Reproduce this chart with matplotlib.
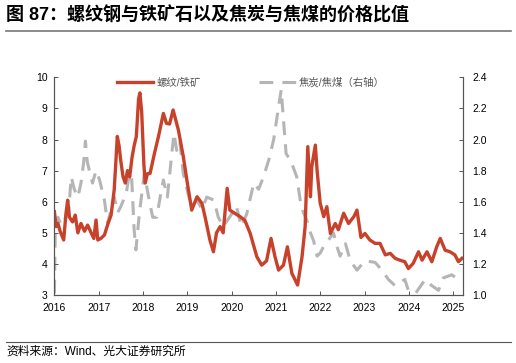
# 螺纹钢/铁矿石 与 焦炭/焦煤 价格比值
import numpy as np
import matplotlib
matplotlib.use('Agg')
import matplotlib.pyplot as plt
from matplotlib.lines import Line2D

plt.rcParams['font.family'] = ['Liberation Sans', 'Noto Sans CJK SC', 'DejaVu Sans']

# data (x in fractional years)
rebar_ore_t = [2016.00, 2016.04, 2016.08, 2016.13, 2016.21, 2016.26, 2016.30, 2016.34, 2016.41,
               2016.47, 2016.53, 2016.60, 2016.68, 2016.75, 2016.83, 2016.89, 2016.94, 2016.98,
               2017.05, 2017.13, 2017.20, 2017.28, 2017.35, 2017.39, 2017.42, 2017.46, 2017.50,
               2017.55, 2017.60, 2017.65, 2017.70, 2017.75, 2017.80, 2017.85, 2017.90, 2017.93,
               2017.97, 2018.02, 2018.05, 2018.10, 2018.16, 2018.25, 2018.35, 2018.46, 2018.53,
               2018.60, 2018.68, 2018.80, 2018.91, 2018.99, 2019.10, 2019.22, 2019.33, 2019.40,
               2019.51, 2019.59, 2019.66, 2019.74, 2019.81, 2019.90, 2019.96, 2020.07, 2020.19,
               2020.30, 2020.42, 2020.57, 2020.68, 2020.79, 2020.89, 2020.98, 2021.06, 2021.17,
               2021.26, 2021.36, 2021.49, 2021.59, 2021.66, 2021.72, 2021.78, 2021.81, 2021.89,
               2021.93, 2022.00, 2022.08, 2022.15, 2022.23, 2022.34, 2022.41, 2022.53, 2022.64,
               2022.76, 2022.83, 2022.92, 2023.01, 2023.12, 2023.24, 2023.35, 2023.47, 2023.58,
               2023.69, 2023.80, 2023.91, 2023.99, 2024.10, 2024.22, 2024.30, 2024.41, 2024.52,
               2024.63, 2024.71, 2024.82, 2024.93, 2025.04, 2025.12, 2025.20]
rebar_ore = [5.68, 5.2, 5.3, 5.05, 4.77, 5.6, 6.05, 5.5, 5.35,
             5.57, 5.0, 5.3, 5.05, 5.25, 5.0, 4.82, 5.41, 4.77,
             4.82, 4.93, 5.25, 5.57, 6.38, 7.34, 8.1, 7.8, 7.3,
             6.8, 6.6, 7.0, 6.8, 7.4, 7.8, 8.1, 9.3, 9.5,
             8.9, 7.2, 6.6, 6.9, 6.91, 7.5, 8.1, 8.84, 8.52,
             8.5, 8.95, 8.3, 7.45, 6.7, 5.73, 6.16, 5.95, 5.52,
             4.77, 4.39, 5.0, 5.2, 5.0, 6.43, 5.73, 5.63, 5.52,
             5.4, 4.98, 4.23, 3.96, 4.1, 4.82, 4.23, 3.8, 3.96,
             4.55, 3.7, 3.32, 4.23, 5.2, 7.77, 6.16, 7.13, 7.82,
             7.0, 5.95, 5.52, 5.84, 4.98, 5.3, 5.1, 5.63, 5.3,
             5.52, 5.73, 4.85, 4.98, 4.77, 4.66, 4.66, 4.29, 4.34,
             4.18, 4.12, 4.07, 3.85, 4.02, 4.39, 4.12, 4.39, 4.07,
             4.55, 4.82, 4.44, 4.39, 4.29, 4.07, 4.18]

coke_coal_t = [2016.00, 2016.02, 2016.08, 2016.15, 2016.26, 2016.32, 2016.38, 2016.45, 2016.53,
               2016.60, 2016.66, 2016.70, 2016.74, 2016.79, 2016.86, 2016.94, 2017.02, 2017.13,
               2017.20, 2017.28, 2017.35, 2017.43, 2017.50, 2017.62, 2017.67, 2017.74, 2017.80,
               2017.84, 2017.92, 2018.03, 2018.14, 2018.22, 2018.31, 2018.40, 2018.46, 2018.55,
               2018.65, 2018.70, 2018.76, 2018.83, 2018.91, 2019.02, 2019.10, 2019.22, 2019.33,
               2019.44, 2019.60, 2019.70, 2019.81, 2020.00, 2020.11, 2020.22, 2020.34, 2020.42,
               2020.50, 2020.61, 2020.72, 2020.84, 2020.95, 2021.06, 2021.12, 2021.17, 2021.23,
               2021.32, 2021.38, 2021.47, 2021.55, 2021.62, 2021.70, 2021.78, 2021.85, 2021.93,
               2022.00, 2022.11, 2022.23, 2022.30, 2022.38, 2022.45, 2022.57, 2022.68, 2022.83,
               2023.01, 2023.24, 2023.39, 2023.54, 2023.69, 2023.80, 2023.91, 2023.99, 2024.15,
               2024.37, 2024.52, 2024.67, 2024.78, 2024.97, 2025.12, 2025.20]
coke_coal = [1.01, 1.40, 1.50, 1.45, 1.50, 1.53, 1.76, 1.68, 1.63,
             1.72, 1.85, 1.99, 1.86, 1.80, 1.72, 1.80, 1.74, 1.61,
             1.46, 1.55, 1.63, 1.53, 1.57, 1.65, 1.74, 1.78, 1.42,
             1.29, 1.53, 1.78, 1.61, 1.50, 1.50, 1.65, 1.74, 1.63,
             1.91, 2.04, 1.93, 1.99, 1.78, 1.65, 1.57, 1.61, 1.55,
             1.63, 1.61, 1.50, 1.44, 1.52, 1.57, 1.44, 1.52, 1.62,
             1.72, 1.68, 1.76, 1.87, 2.00, 2.21, 2.32, 2.13, 1.91,
             1.87, 1.83, 1.76, 1.61, 1.53, 1.48, 1.40, 1.35, 1.25,
             1.27, 1.33, 1.37, 1.40, 1.31, 1.25, 1.33, 1.22, 1.16,
             1.22, 1.21, 1.16, 1.10, 1.06, 1.08, 1.10, 1.03, 1.01,
             1.10, 1.06, 1.03, 1.11, 1.13, 1.10, 1.11]

years = list(range(2016, 2026))
left_ticks = list(range(3, 11))
right_ticks = [1.0, 1.2, 1.4, 1.6, 1.8, 2.0, 2.2, 2.4]

red = '#C8412A'
grey = '#B5B5B5'

fig = plt.figure(figsize=(5.16, 3.63), dpi=100)
ax = fig.add_axes([0.1054, 0.1873, 0.7916, 0.5997])
ax2 = ax.twinx()

ax.plot(rebar_ore_t, rebar_ore, color=red, lw=2.4, solid_joinstyle='round')
ax2.plot(coke_coal_t, coke_coal, color=grey, lw=2.2, dashes=(4.5, 3))

ax.set_xlim(2016, 2025.22)
ax.set_ylim(3, 10)
ax2.set_ylim(1.0, 2.4)
ax.set_xticks(years)
ax.set_xticklabels([str(y) for y in years])
ax.set_yticks(left_ticks)
ax2.set_yticks(right_ticks)
ax2.set_yticklabels([f'{v:.1f}' for v in right_ticks])

for a in (ax, ax2):
    a.spines['top'].set_visible(False)
    for s in ('left', 'right', 'bottom'):
        a.spines[s].set_color('#555555')
        a.spines[s].set_linewidth(0.8)
ax.tick_params(axis='both', direction='in', length=3, width=0.7, color='#555555',
               labelsize=7.5, pad=5)
ax.tick_params(axis='x', pad=6)
ax2.tick_params(axis='y', direction='in', length=3, width=0.7, color='#555555',
                labelsize=7.5, pad=7)

handles = [Line2D([], [], color=red, lw=2.4),
           Line2D([], [], color=grey, lw=2.2, dashes=(4.5, 3))]
leg = ax.legend(handles, ['螺纹/铁矿', '焦炭/焦煤（右轴）'], loc='upper left',
                bbox_to_anchor=(0.153, 1.0), ncol=2, frameon=False, fontsize=7.5,
                handlelength=3.5, columnspacing=5.6, handletextpad=0.3, borderpad=0,
                borderaxespad=0)
for t in leg.get_texts():
    t.set_color('#555555')
ax2.set_zorder(ax.get_zorder() - 1)
ax.patch.set_visible(False)

fig.text(0.012, 0.957, '图 87：螺纹钢与铁矿石以及焦炭与焦煤的价格比值', fontsize=13,
         fontweight='bold', ha='left', va='center')
fig.add_artist(Line2D([0.012, 0.99], [0.915, 0.915], color='#777777', lw=1.2))
fig.add_artist(Line2D([0.012, 0.99], [0.058, 0.058], color='#555555', lw=0.8))
fig.text(0.012, 0.031, '资料来源：Wind、光大证券研究所', fontsize=8.5, ha='left', va='center')

fig.savefig('out.png', dpi=100)
